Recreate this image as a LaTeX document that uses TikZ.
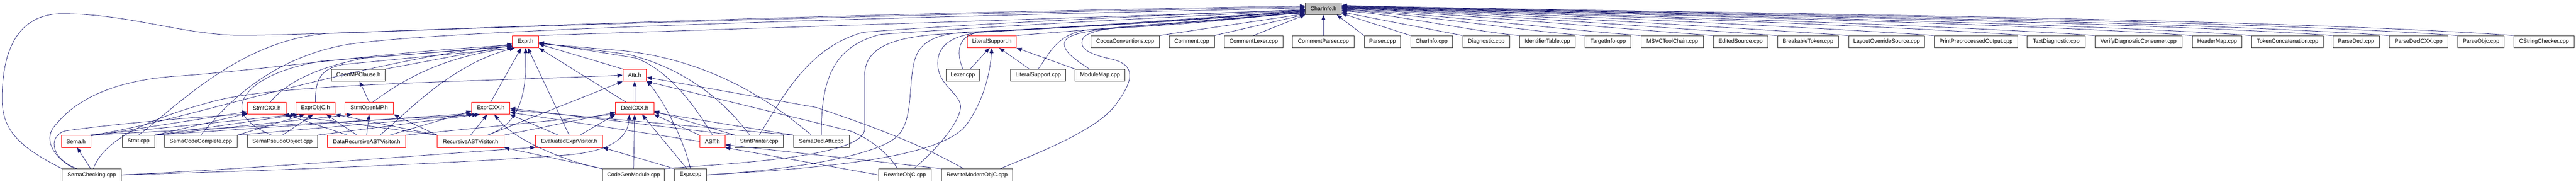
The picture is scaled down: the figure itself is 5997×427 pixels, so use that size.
\documentclass[tikz,border=0pt]{standalone}
\usepackage{fontspec}
\setmainfont{Liberation Sans}
\usetikzlibrary{arrows.meta}
\definecolor{edgeblue}{HTML}{191970}
\tikzset{
  file/.style={draw=black!80, line width=1pt, inner sep=0pt, minimum height=28pt, font=\fontsize{13}{15}\selectfont},
  hfile/.style={file, draw=red},
  dep/.style={draw=edgeblue, line width=0.9pt, -{Triangle[length=12pt,width=9pt]}},
}

\begin{document}
\begin{tikzpicture}[x=1pt, y=-1pt]
\useasboundingbox (0,0) rectangle (5997,427);

% the header itself
\node[file, fill=black!25, minimum width=84pt] (ci) at (3081,20) {CharInfo.h};

% direct includers
\node[hfile, minimum width=61pt] (ex) at (1223.5,97) {Expr.h};
\node[hfile, minimum width=114pt] (ls) at (2309,97) {LiteralSupport.h};
\node[file, minimum width=159pt] (cocoa) at (2619.5,97) {CocoaConventions.cpp};
\node[file, minimum width=105pt] (cmt) at (2774.5,97) {Comment.cpp};
\node[file, minimum width=137pt] (clex) at (2918.5,97) {CommentLexer.cpp};
\node[file, minimum width=144pt] (cpar) at (3081,97) {CommentParser.cpp};
\node[file, minimum width=85pt] (parser) at (3218.5,97) {Parser.cpp};
\node[file, minimum width=98pt] (cicpp) at (3333,97) {CharInfo.cpp};
\node[file, minimum width=110pt] (diag) at (3460,97) {Diagnostic.cpp};
\node[file, minimum width=129pt] (idt) at (3602.5,97) {IdentifierTable.cpp};
\node[file, minimum width=107pt] (ti) at (3743.5,97) {TargetInfo.cpp};
\node[file, minimum width=146pt] (msvc) at (3893,97) {MSVCToolChain.cpp};
\node[file, minimum width=126pt] (edit) at (4052,97) {EditedSource.cpp};
\node[file, minimum width=142pt] (brk) at (4209,97) {BreakableToken.cpp};
\node[file, minimum width=176pt] (lay) at (4392,97) {LayoutOverrideSource.cpp};
\node[file, minimum width=194pt] (ppo) at (4600,97) {PrintPreprocessedOutput.cpp};
\node[file, minimum width=135pt] (td) at (4786.5,97) {TextDiagnostic.cpp};
\node[file, minimum width=203pt] (vdc) at (4978.5,97) {VerifyDiagnosticConsumer.cpp};
\node[file, minimum width=115pt] (hm) at (5161.5,97) {HeaderMap.cpp};
\node[file, minimum width=167pt] (tc) at (5325.5,97) {TokenConcatenation.cpp};
\node[file, minimum width=108pt] (pd) at (5485,97) {ParseDecl.cpp};
\node[file, minimum width=137pt] (pdc) at (5630.5,97) {ParseDeclCXX.cpp};
\node[file, minimum width=108pt] (po) at (5776,97) {ParseObjc.cpp};
\node[file, minimum width=141pt] (csc) at (5922.5,97) {CStringChecker.cpp};

% second row
\node[file, minimum width=125pt] (omp) at (834.5,175) {OpenMPClause.h};
\node[hfile, minimum width=55pt] (attr) at (1477.5,175) {Attr.h};
\node[file, minimum width=79pt] (lexer) at (2241.5,175) {Lexer.cpp};
\node[file, minimum width=128pt] (lscpp) at (2417,175) {LiteralSupport.cpp};
\node[file, minimum width=116pt] (mm) at (2561,175) {ModuleMap.cpp};

% third row
\node[hfile, minimum width=90pt] (stcxx) at (621,252) {StmtCXX.h};
\node[hfile, minimum width=91pt] (eobjc) at (734.5,252) {ExprObjC.h};
\node[hfile, minimum width=113pt] (somp) at (859.5,252) {StmtOpenMP.h};
\node[hfile, minimum width=89pt] (excxx) at (1142.5,252) {ExprCXX.h};
\node[hfile, minimum width=89pt] (dcxx) at (1477.5,252) {DeclCXX.h};

% fourth row
\node[hfile, minimum width=68pt] (sema) at (177,329) {Sema.h};
\node[file, minimum width=75pt] (stmt) at (322.5,329) {Stmt.cpp};
\node[file, minimum width=169pt] (scc) at (467.5,329) {SemaCodeComplete.cpp};
\node[file, minimum width=163pt] (spo) at (657.5,329) {SemaPseudoObject.cpp};
\node[hfile, minimum width=183pt] (drav) at (853.5,329) {DataRecursiveASTVisitor.h};
\node[hfile, minimum width=155pt] (rav) at (1095.5,329) {RecursiveASTVisitor.h};
\node[hfile, minimum width=156pt] (eev) at (1325,329) {EvaluatedExprVisitor.h};
\node[hfile, minimum width=59pt] (ast) at (1658.5,329) {AST.h};
\node[file, minimum width=113pt] (sp) at (1767.5,329) {StmtPrinter.cpp};
\node[file, minimum width=130pt] (sda) at (1912,329) {SemaDeclAttr.cpp};

% bottom row
\node[file, minimum width=137pt] (sch) at (213.5,407) {SemaChecking.cpp};
\node[file, minimum width=144pt] (cgm) at (1475,407) {CodeGenModule.cpp};
\node[file, minimum width=75pt] (exprcpp) at (1607.5,407) {Expr.cpp};
\node[file, minimum width=123pt] (robjc) at (2106.5,407) {RewriteObjC.cpp};
\node[file, minimum width=165pt] (rmobjc) at (2274.5,407) {RewriteModernObjC.cpp};

% into CharInfo.h, from the right
\draw[dep] (parser.north west) -- (ci.-25);
\draw[dep] (cicpp.north west) -- (ci.-15);
\draw[dep] (diag.north west) -- (ci.-11);
\draw[dep] (idt.north west) .. controls +(-95,-7) and +(95,2.5) .. (ci.-8);
\draw[dep] (ti.north west) .. controls +(-130,-9) and +(130,3) .. (ci.-6);
\draw[dep] (msvc.north west) .. controls +(-160,-11) and +(160,4) .. (ci.-4);
\draw[dep] (edit.north west) .. controls +(-200,-14) and +(200,5) .. (ci.-2);
\draw[dep] (brk.north west) .. controls +(-233,-16) and +(233,6) .. (ci.0);
\draw[dep] (lay.north west) .. controls +(-272,-19) and +(272,7) .. (ci.1);
\draw[dep] (ppo.north west) .. controls +(-317,-22) and +(317,8) .. (ci.2);
\draw[dep] (td.north west) .. controls +(-367,-26) and +(367,10) .. (ci.3);
\draw[dep] (vdc.north west) .. controls +(-403,-28) and +(403,11) .. (ci.4);
\draw[dep] (hm.north west) .. controls +(-456,-32) and +(456,12) .. (ci.5);
\draw[dep] (tc.north west) .. controls +(-487,-34) and +(487,13) .. (ci.6);
\draw[dep] (pd.north west) .. controls +(-531,-37) and +(531,14) .. (ci.7);
\draw[dep] (pdc.north west) .. controls +(-561,-39) and +(561,15) .. (ci.8);
\draw[dep] (po.north west) .. controls +(-598,-42) and +(598,16) .. (ci.9);
\draw[dep] (csc.north west) .. controls +(-628,-44) and +(628,16) .. (ci.10);

% into CharInfo.h, from the left
\draw[dep] (ex.north east) -- (ci.185);
\draw[dep] (ls.north east) -- (ci.192);
\draw[dep] (cocoa.north east) -- (ci.196);
\draw[dep] (cmt.north east) -- (ci.198);
\draw[dep] (clex.north) -- (ci.south west);
\draw[dep] (cpar.north) -- (ci.south);
\draw[dep] (sch.north west) .. controls (40,340) and (5,300) .. (5,230) .. controls (5,90) and (60,32) .. (145,32) .. controls (300,32) and (430,82) .. (560,82) .. controls (800,82) and (1500,40) .. (ci.172);
\draw[dep] (stmt.north) .. controls (420,240) and (560,95) .. (760,78) .. controls (1200,62) and (2000,35) .. (ci.175);
\draw[dep] (scc.north) .. controls (520,250) and (620,140) .. (800,105) .. controls (1000,70) and (2000,42) .. (ci.178);
\draw[dep] (sp.north) .. controls (1820,230) and (1880,110) .. (2010,75) .. controls (2300,52) and (2800,32) .. (ci.183);
\draw[dep] (sda.north) .. controls (1912,200) and (1930,110) .. (2050,80) .. controls (2350,58) and (2800,36) .. (ci.186);
\draw[dep] (lexer.north) .. controls (2225,120) and (2230,82) .. (2280,75) .. controls (2500,65) and (2800,40) .. (ci.188);
\draw[dep] (lscpp.north) .. controls (2440,130) and (2460,78) .. (2530,70) .. controls (2700,60) and (2900,40) .. (ci.190);
\draw[dep] (mm.150) .. controls (2505,140) and (2475,120) .. (2478,100) .. controls (2480,80) and (2530,70) .. (2620,64) .. controls (2800,55) and (2950,35) .. (ci.194);
\draw[dep] (rmobjc.15) .. controls (2420,355) and (2560,300) .. (2600,240) .. controls (2640,185) and (2645,150) .. (2585,137) .. controls (2530,125) and (2510,110) .. (2522,88) .. controls (2535,68) and (2620,60) .. (2720,55) .. controls (2850,48) and (2950,35) .. (ci.193);
\draw[dep] (robjc.35) .. controls (2190,340) and (2245,270) .. (2235,240) .. controls (2225,212) and (2185,195) .. (2183,150) .. controls (2182,105) and (2215,80) .. (2300,73) .. controls (2600,60) and (2900,38) .. (ci.189);
\draw[dep] (cgm.north east) .. controls (1650,383) and (2013,370) .. (2013,300) -- (2013,175) .. controls (2013,110) and (2080,88) .. (2180,80) .. controls (2500,62) and (2900,38) .. (ci.187);
\draw[dep] (exprcpp.east) .. controls (1850,395) and (2060,360) .. (2095,310) .. controls (2125,270) and (2115,200) .. (2128,145) .. controls (2140,95) and (2180,78) .. (2260,74) .. controls (2600,60) and (2900,38) .. (ci.184);

% into LiteralSupport.h
\draw[dep] (lexer.40) -- (ls.250);
\draw[dep] (lscpp.145) -- (ls.-40);
\draw[dep] (mm.north west) -- (ls.south east);
\draw[dep] (exprcpp.east) .. controls (1900,392) and (2190,370) .. (2250,290) .. controls (2290,235) and (2305,170) .. (ls.south);

% into Expr.h
\draw[dep] (omp.north east) -- (ex.195);
\draw[dep] (somp.60) .. controls (920,200) and (1010,135) .. (ex.205);
\draw[dep] (stcxx.60) .. controls (660,200) and (720,160) .. (850,135) -- (ex.198);
\draw[dep] (eobjc.north) .. controls (734,185) and (745,160) .. (800,150) -- (ex.208);
\draw[dep] (excxx.north) -- (ex.235);
\draw[dep] (dcxx.145) -- (ex.south east);
\draw[dep] (attr.north west) -- (ex.-10);
\draw[dep] (rav.20) .. controls (1200,290) and (1227,240) .. (ex.south);
\draw[dep] (eev.north) -- (ex.-70);
\draw[dep] (sema.north east) .. controls (400,290) and (800,150) .. (ex.190);
\draw[dep] (spo.150) .. controls (585,295) and (560,270) .. (563,245) .. controls (570,200) and (640,160) .. (750,142) -- (ex.200);
\draw[dep] (drav.25) .. controls (950,260) and (1050,150) .. (ex.210);
\draw[dep] (ast.north) .. controls (1620,250) and (1560,165) .. (1480,135) -- (ex.-3);
\draw[dep] (sp.147) .. controls (1690,240) and (1600,160) .. (1460,126) -- (ex.-6);
\draw[dep] (sda.148) .. controls (1790,230) and (1650,140) .. (1450,118) -- (ex.-8);
\draw[dep] (sch.160) .. controls (120,365) and (100,320) .. (130,290) .. controls (170,240) and (250,190) .. (400,178) .. controls (600,165) and (900,120) .. (ex.195);

% into Attr.h
\draw[dep] (dcxx.north) -- (attr.south);
\draw[dep] (rav.20) -- (attr.south west);
\draw[dep] (sch.75) .. controls (240,330) and (330,280) .. (500,235) .. controls (650,195) and (1100,190) .. (attr.west);
\draw[dep] (rmobjc.155) .. controls (2150,340) and (2050,300) .. (1900,250) -- (attr.-10);
\draw[dep] (robjc.140) .. controls (2070,360) and (2030,325) .. (1980,305) -- (attr.south east);
\draw[dep] (exprcpp.north) .. controls (1590,320) and (1545,235) .. (attr.-25);

% into DeclCXX.h
\draw[dep] (cgm.north) -- (dcxx.south);
\draw[dep] (eev.30) -- (dcxx.south west);
\draw[dep] (rav.north east) -- (dcxx.192);
\draw[dep] (drav.north east) -- (dcxx.197);
\draw[dep] (ast.north west) -- (dcxx.south east);
\draw[dep] (sp.north west) -- (dcxx.-8);
\draw[dep] (sda.north west) -- (dcxx.-12);
\draw[dep] (exprcpp.120) -- (dcxx.-40);
\draw[dep] (sch.east) .. controls (700,395) and (1100,378) .. (1300,362) .. controls (1440,355) and (1462,310) .. (dcxx.-130);

% into ExprCXX.h
\draw[dep] (rav.north) -- (excxx.240);
\draw[dep] (eev.150) -- (excxx.south east);
\draw[dep] (cgm.north west) .. controls (1330,380) and (1200,330) .. (excxx.-60);
\draw[dep] (sp.north west) -- (excxx.east);
\draw[dep] (sda.north west) -- (excxx.-5);
\draw[dep] (ast.west) -- (excxx.-12);
\draw[dep] (drav.15) -- (excxx.188);
\draw[dep] (stmt.north east) -- (excxx.195);
\draw[dep] (scc.north east) -- (excxx.200);
\draw[dep] (spo.north east) -- (excxx.205);
\draw[dep] (sema.25) -- (excxx.210);

% into ExprObjC.h
\draw[dep] (spo.north) -- (eobjc.250);
\draw[dep] (drav.147) -- (eobjc.-30);
\draw[dep] (rav.north west) -- (eobjc.south east);
\draw[dep] (sema.north east) -- (eobjc.south west);
\draw[dep] (stmt.north east) -- (eobjc.200);
\draw[dep] (scc.north east) -- (eobjc.210);

% into StmtCXX.h
\draw[dep] (sema.20) -- (stcxx.190);
\draw[dep] (stmt.north east) -- (stcxx.195);
\draw[dep] (drav.162) -- (stcxx.south east);
\draw[dep] (rav.north west) -- (stcxx.-20);
\draw[dep] (sch.157) .. controls (120,370) and (110,320) .. (150,305) .. controls (250,290) and (450,272) .. (stcxx.197);

% into StmtOpenMP.h and OpenMPClause.h
\draw[dep] (drav.north) -- (somp.south);
\draw[dep] (rav.north west) -- (somp.south east);
\draw[dep] (stmt.north east) -- (somp.200);
\draw[dep] (somp.north) -- (omp.-80);

% the rest
\draw[dep] (sch.100) -- (sema.-80);
\draw[dep] (cgm.north west) -- (rav.south east);
\draw[dep] (sch.east) .. controls (600,392) and (1000,360) .. (eev.190);
\draw[dep] (exprcpp.north west) -- (eev.south east);
\draw[dep] (robjc.west) -- (ast.south east);
\draw[dep] (rmobjc.north west) -- (ast.-15);
\end{tikzpicture}
\end{document}
